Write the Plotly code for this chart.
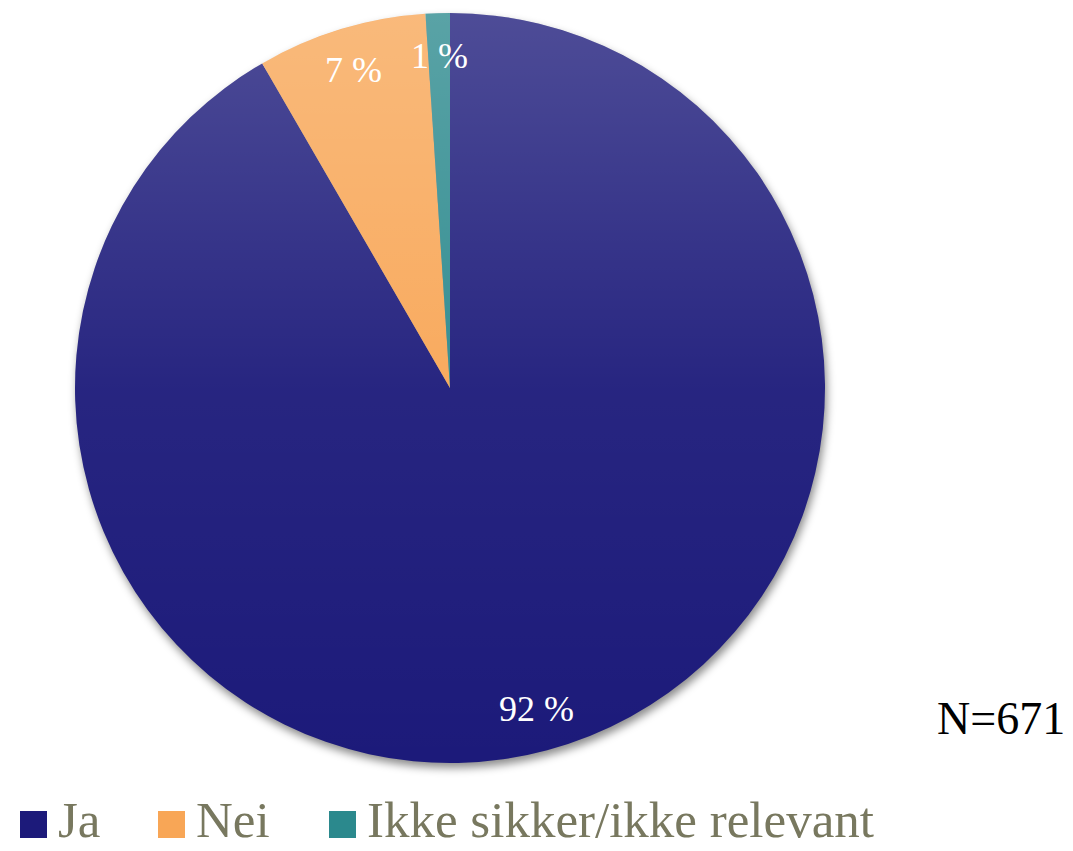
import math
import base64
import plotly.graph_objects as go

# ---- data ----
categories = ["Ja", "Nei", "Ikke sikker/ikke relevant"]
counts = [615, 49, 7]
colors = ["#1c1a7a", "#f8a656", "#2b898d"]
n_label = "N=671"

# ---- layout constants (pixels) ----
W, H = 1073, 851
cx, cy, R = 450, 388, 375
SERIF = "Liberation Serif, Times New Roman, serif"

total = sum(counts)

fig = go.Figure(go.Pie(
    labels=categories,
    values=counts,
    marker=dict(colors=colors, line=dict(width=0)),
    sort=False,
    direction="clockwise",
    rotation=0,
    textinfo="none",
    hoverinfo="skip",
    showlegend=False,
    domain=dict(x=[(cx - R) / W, (cx + R) / W],
                y=[1 - (cy + R) / H, 1 - (cy - R) / H]),
))

# percentage labels placed along each slice's mid-angle
annotations = []
cum = 0
for v in counts:
    theta = 2 * math.pi * (cum + v / 2) / total
    cum += v
    rl = 0.885 * R
    px = cx + rl * math.sin(theta)
    py = cy - rl * math.cos(theta)
    annotations.append(dict(
        x=px / W, y=1 - py / H, xref="paper", yref="paper",
        text=f"{round(100 * v / total)} %", showarrow=False,
        font=dict(family=SERIF, size=36, color="white"),
        xanchor="center", yanchor="middle"))

# N label
annotations.append(dict(
    x=935 / W, y=1 - 718 / H, xref="paper", yref="paper",
    text=n_label, showarrow=False, xanchor="left", yanchor="middle",
    font=dict(family=SERIF, size=46, color="black")))

# custom legend
legend_marker_x = [20, 158, 329]
legend_text_x = [56, 194, 365]
legend_y = 825
legend_text_y = 820
shapes = []
for i, cat in enumerate(categories):
    shapes.append(dict(
        type="rect", xref="paper", yref="paper",
        x0=legend_marker_x[i] / W, x1=(legend_marker_x[i] + 27) / W,
        y0=1 - (legend_y + 13) / H, y1=1 - (legend_y - 14) / H,
        fillcolor=colors[i], line=dict(width=0)))
    annotations.append(dict(
        x=legend_text_x[i] / W, y=1 - legend_text_y / H,
        xref="paper", yref="paper", text=cat, showarrow=False,
        xanchor="left", yanchor="middle",
        font=dict(family=SERIF, size=51, color="#78785f")))

# gradient overlay + shadow as SVG images
grad_svg = (
    "<svg xmlns='http://www.w3.org/2000/svg' width='750' height='750' viewBox='0 0 750 750'>"
    "<defs><linearGradient id='g' x1='0' y1='0' x2='0' y2='1'>"
    "<stop offset='0' stop-color='white' stop-opacity='0.22'/>"
    "<stop offset='0.5' stop-color='white' stop-opacity='0.05'/>"
    "<stop offset='1' stop-color='white' stop-opacity='0'/>"
    "</linearGradient></defs>"
    "<circle cx='375' cy='375' r='375' fill='url(#g)'/></svg>")
shadow_svg = (
    "<svg xmlns='http://www.w3.org/2000/svg' width='800' height='800' viewBox='0 0 800 800'>"
    "<defs><filter id='b' x='-10%' y='-10%' width='120%' height='120%'>"
    "<feGaussianBlur stdDeviation='4'/></filter></defs>"
    "<circle cx='402' cy='405' r='375' fill='#000' fill-opacity='0.45' filter='url(#b)'/></svg>")


def uri(s):
    return "data:image/svg+xml;base64," + base64.b64encode(s.encode()).decode()


images = [
    dict(source=uri(shadow_svg), xref="paper", yref="paper",
         x=(cx - 400) / W, y=1 - (cy - 400) / H, sizex=800 / W, sizey=800 / H,
         xanchor="left", yanchor="top", sizing="stretch", layer="below"),
    dict(source=uri(grad_svg), xref="paper", yref="paper",
         x=(cx - R) / W, y=1 - (cy - R) / H, sizex=2 * R / W, sizey=2 * R / H,
         xanchor="left", yanchor="top", sizing="stretch", layer="above"),
]

fig.update_layout(
    width=W, height=H,
    margin=dict(l=0, r=0, t=0, b=0),
    paper_bgcolor="white", plot_bgcolor="white",
    annotations=annotations, shapes=shapes, images=images,
    showlegend=False,
)

fig.write_html(
    "out.html",
    config={"displayModeBar": False},
    post_script="document.body.style.margin='0';document.body.style.overflow='hidden';",
)
